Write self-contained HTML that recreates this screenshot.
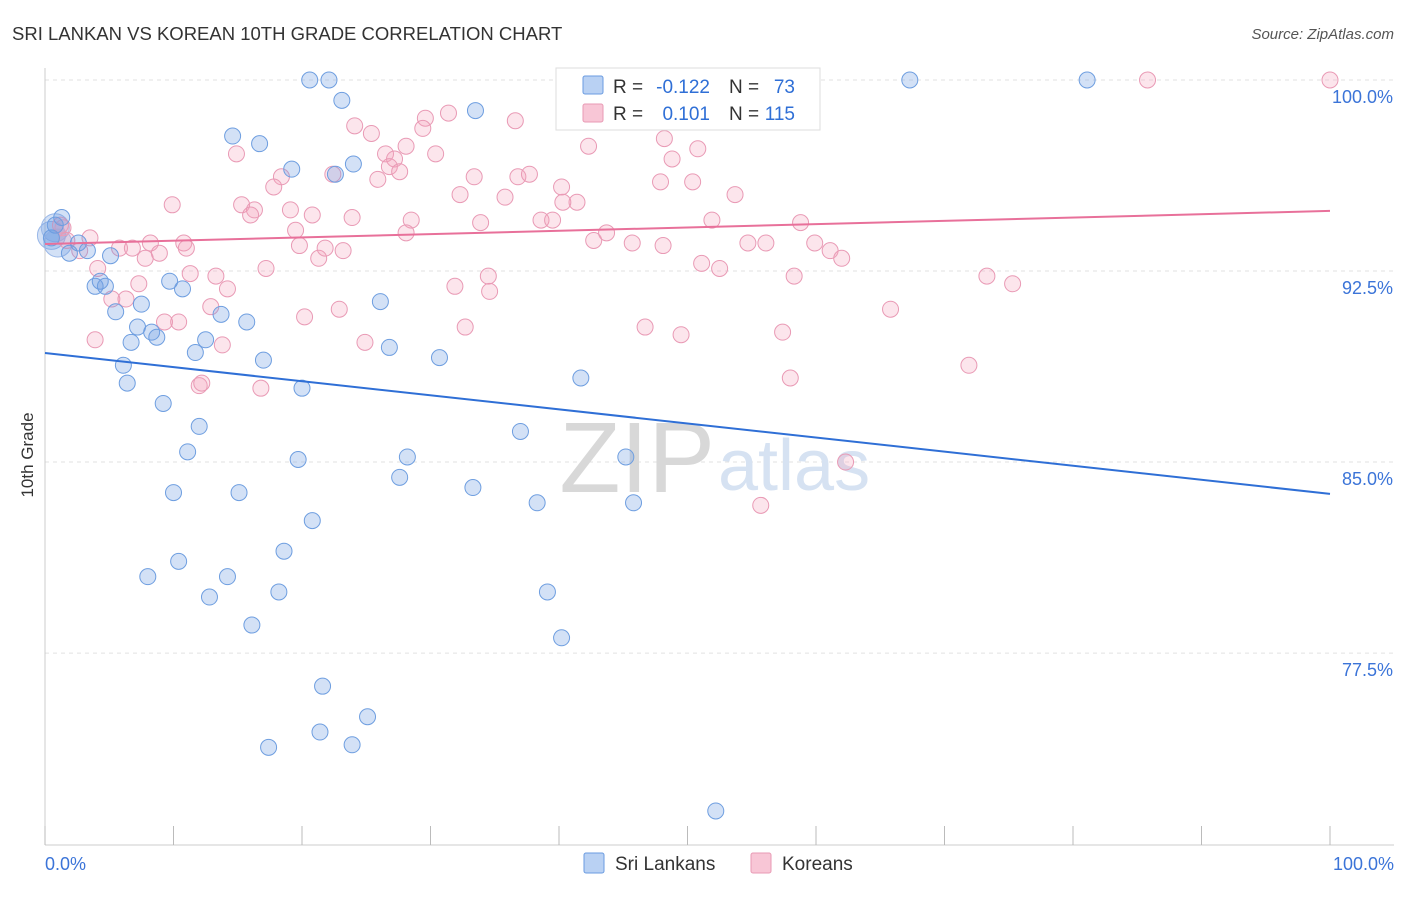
<!DOCTYPE html>
<html><head><meta charset="utf-8"><style>
body{margin:0;background:#fff;font-family:"Liberation Sans",sans-serif;}
svg text{font-family:"Liberation Sans",sans-serif;}
</style></head><body>
<svg id="c" width="1406" height="892" xmlns="http://www.w3.org/2000/svg">
<text x="12" y="40" font-size="18.5" fill="#333">SRI LANKAN VS KOREAN 10TH GRADE CORRELATION CHART</text>
<text x="1394" y="39" font-size="15" fill="#555" font-style="italic" text-anchor="end">Source: ZipAtlas.com</text>
<text x="33" y="455" font-size="17" fill="#333" transform="rotate(-90 33 455)" text-anchor="middle">10th Grade</text>
<g id="grid"></g>
<text x="715" y="492" font-size="100" fill="#d8d8d8" text-anchor="end" font-family="Liberation Serif">ZIP</text>
<text x="718" y="490" font-size="72" fill="#d6e2f2">atlas</text>
<g id="pts"></g>
<g id="trend"></g>
<g>
<rect x="556" y="68" width="264" height="62" fill="#fff" stroke="#ddd"/>
<rect x="583" y="76" width="20" height="18" fill="#b9d1f3" stroke="#6a9be0" rx="2"/>
<rect x="583" y="104" width="20" height="18" fill="#f8c6d6" stroke="#e89ab4" rx="2"/>
<text x="613" y="93" font-size="19" fill="#333">R =</text>
<text x="710" y="93" font-size="19" fill="#2f6fd6" text-anchor="end">-0.122</text>
<text x="729" y="93" font-size="19" fill="#333">N =</text>
<text x="795" y="93" font-size="19" fill="#2f6fd6" text-anchor="end">73</text>
<text x="613" y="120" font-size="19" fill="#333">R =</text>
<text x="710" y="120" font-size="19" fill="#2f6fd6" text-anchor="end">0.101</text>
<text x="729" y="120" font-size="19" fill="#333">N =</text>
<text x="795" y="120" font-size="19" fill="#2f6fd6" text-anchor="end">115</text>
</g>
<g>
<rect x="584" y="853" width="20" height="20" fill="#b9d1f3" stroke="#6a9be0" rx="2"/>
<text x="615" y="870" font-size="19" fill="#333">Sri Lankans</text>
<rect x="751" y="853" width="20" height="20" fill="#f8c6d6" stroke="#e89ab4" rx="2"/>
<text x="782" y="870" font-size="19" fill="#333">Koreans</text>
</g>
</svg>
<script>
const yTicks=[100,92.5,85,77.5];
const yTickLabels=["100.0%","92.5%","85.0%","77.5%"];
const xTicks=[0,10,20,30,40,50,60,70,80,90,100];
const xLabels=["0.0%","100.0%"];
const blueX=[20.6,22.1,67.3,81.1,33.5,23.1,14.6,16.7,19.2,24.0,22.6,1.3,0.8,0.5,1.9,2.6,3.3,5.1,4.3,3.9,4.7,9.7,10.7,5.5,7.5,7.2,8.3,8.7,6.7,12.5,13.7,15.7,11.7,17.0,26.1,26.8,30.7,6.1,6.4,20.0,41.7,9.2,12.0,11.1,37.0,19.7,28.2,27.6,45.2,10.0,15.1,33.3,20.8,38.3,45.8,18.6,10.4,8.0,14.2,12.8,18.2,39.1,16.1,40.2,21.6,25.1,21.4,23.9,17.4,52.2];
const blueY=[100,100,100,100,98.8,99.2,97.8,97.5,96.5,96.7,96.3,94.6,94.3,93.8,93.2,93.6,93.3,93.1,92.1,91.9,91.9,92.1,91.8,90.9,91.2,90.3,90.1,89.9,89.7,89.8,90.8,90.5,89.3,89.0,91.3,89.5,89.1,88.8,88.1,87.9,88.3,87.3,86.4,85.4,86.2,85.1,85.2,84.4,85.2,83.8,83.8,84.0,82.7,83.4,83.4,81.5,81.1,80.5,80.5,79.7,79.9,79.9,78.6,78.1,76.2,75.0,74.4,73.9,73.8,71.3];
const pinkX=[40.9,85.8,100,54.2,31.4,29.6,36.6,24.1,25.4,29.4,42.3,48.2,14.9,26.5,27.2,30.4,28.1,50.8,48.8,22.4,26.8,27.6,25.9,18.4,33.4,36.8,37.7,40.2,17.8,32.3,35.8,47.9,50.4,53.7,9.9,15.3,16.3,16.0,19.1,20.8,23.9,28.5,33.9,38.6,39.5,41.4,40.3,51.9,58.8,19.5,28.1,42.7,43.7,45.7,48.1,54.7,56.1,59.9,61.1,62.0,5.8,6.8,8.2,8.9,10.8,11.0,7.8,3.5,1.4,2.7,4.1,11.3,13.3,14.2,17.2,19.8,21.3,21.8,23.2,34.5,34.6,31.9,51.1,52.5,58.3,73.3,75.3,7.3,5.2,6.3,12.9,10.4,9.3,20.2,22.9,32.7,46.7,49.5,57.4,65.8,3.9,13.8,24.9,12.0,12.2,16.8,58.0,71.9,62.3,55.7,1.2,1.7];
const pinkY=[100,100,100,99.1,98.7,98.5,98.4,98.2,97.9,98.1,97.4,97.7,97.1,97.1,96.9,97.1,97.4,97.3,96.9,96.3,96.6,96.4,96.1,96.2,96.2,96.2,96.3,95.8,95.8,95.5,95.4,96.0,96.0,95.5,95.1,95.1,94.9,94.7,94.9,94.7,94.6,94.5,94.4,94.5,94.5,95.2,95.2,94.5,94.4,94.1,94.0,93.7,94.0,93.6,93.5,93.6,93.6,93.6,93.3,93.0,93.4,93.4,93.6,93.2,93.6,93.4,93.0,93.8,94.2,93.3,92.6,92.4,92.3,91.8,92.6,93.5,93.0,93.4,93.3,92.3,91.7,91.9,92.8,92.6,92.3,92.3,92.0,92.0,91.4,91.4,91.1,90.5,90.5,90.7,91.0,90.3,90.3,90.0,90.1,91.0,89.8,89.6,89.7,88.0,88.1,87.9,88.3,88.8,85.0,83.3,94.3,93.7];
const bigX=[0.5,0.8,1.0];
const bigY=[93.9,94.2,93.6];
const blueTrend=[89.28,83.75];
const pinkTrend=[93.56,94.86];
const NS="http://www.w3.org/2000/svg";
const X=v=>45+v*12.85, Y=v=>80+(100-v)*25.47;
function mk(t,a,p){const e=document.createElementNS(NS,t);for(const k in a)e.setAttribute(k,a[k]);p.appendChild(e);return e;}
const g=document.getElementById('grid');
yTicks.forEach((t,i)=>{
 const l=mk('line',{x1:45,x2:1394,y1:Y(t),y2:Y(t),stroke:'#e2e2e2','stroke-dasharray':'4,4'},g);
 
 
 const tx=mk('text',{x:1393,y:Y(t)+23,'font-size':18,fill:'#3b74d8','text-anchor':'end'},g);tx.textContent=yTickLabels[i];
 
 
});
const ax=mk('line',{x1:45,x2:1394,y1:845,y2:845,stroke:'#ccc'},g);


const ay=mk('line',{x1:45,x2:45,y1:68,y2:845,stroke:'#ccc'},g);


xTicks.forEach(t=>{const l=mk('line',{x1:X(t),x2:X(t),y1:826,y2:845,stroke:'#bbb'},g);
 
 });
[[0,'start',45],[100,'end',1394]].forEach((d,i)=>{const tx=mk('text',{x:d[2],y:870,'font-size':18,fill:'#3b74d8','text-anchor':d[1]},g);tx.textContent=xLabels[i];
 
 });
const p=document.getElementById('pts');
bigX.forEach((v,i)=>{const c=mk('circle',{cx:X(v),cy:Y(bigY[i]),r:14,fill:'rgba(110,155,225,0.3)',stroke:'#9ab8e8','stroke-width':1},p);
 
 });
pinkX.forEach((v,i)=>{const c=mk('circle',{cx:X(v),cy:Y(pinkY[i]),r:8,fill:'rgba(244,160,188,0.28)',stroke:'#e99ab5','stroke-width':1},p);
 
 });
blueX.forEach((v,i)=>{const c=mk('circle',{cx:X(v),cy:Y(blueY[i]),r:8,fill:'rgba(110,155,225,0.3)',stroke:'#6e9ee0','stroke-width':1},p);
 
 });
const tr=document.getElementById('trend');
const bl=mk('line',{x1:X(0),x2:X(100),y1:Y(blueTrend[0]),y2:Y(blueTrend[1]),stroke:'#2f6fd6','stroke-width':2},tr);


const pl=mk('line',{x1:X(0),x2:X(100),y1:Y(pinkTrend[0]),y2:Y(pinkTrend[1]),stroke:'#e8709a','stroke-width':2},tr);


</script>
</body></html>
